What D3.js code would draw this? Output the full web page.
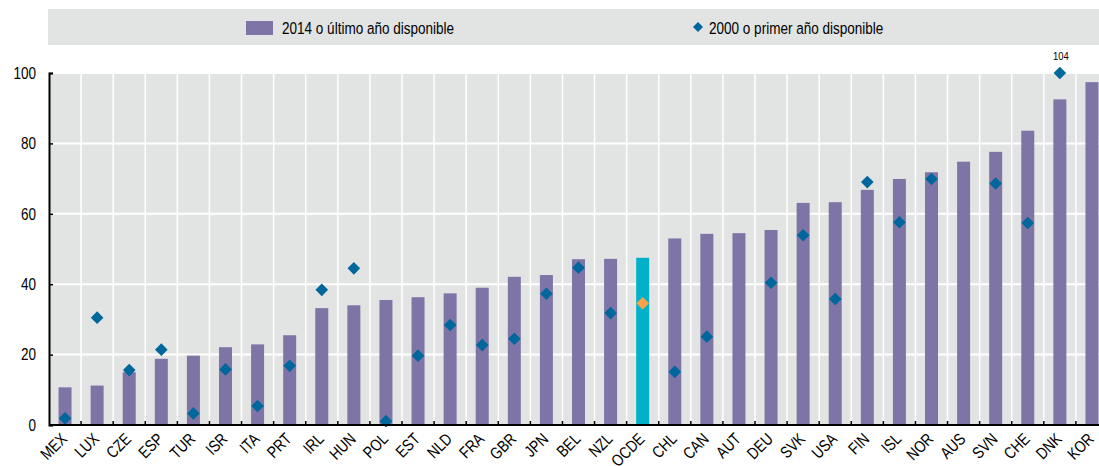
<!DOCTYPE html>
<html>
<head>
<meta charset="utf-8">
<script src="https://cdn.jsdelivr.net/npm/d3@7"></script>
<style>
  html, body { margin: 0; padding: 0; background: #fff; }
  svg { display: block; }
  text { font-family: "Liberation Sans", Arial, sans-serif; fill: #000; }
</style>
</head>
<body>
<svg id="chart" width="1099" height="466"></svg>
<script>
// Country codes, ordered by the latest value
const countries = ["MEX","LUX","CZE","ESP","TUR","ISR","ITA","PRT","IRL","HUN","POL","EST","NLD","FRA","GBR","JPN","BEL","NZL","OCDE","CHL","CAN","AUT","DEU","SVK","USA","FIN","ISL","NOR","AUS","SVN","CHE","DNK","KOR"];

// 2014 or latest available year
const latest = [10.7,11.2,15.0,18.8,19.7,22.1,22.9,25.5,33.2,34.0,35.5,36.3,37.4,39.0,42.1,42.6,47.1,47.2,47.5,53.0,54.3,54.5,55.4,63.1,63.3,66.8,69.9,71.8,74.8,77.6,83.6,92.5,97.4];

// 2000 or first available year (null where not available)
const first = [1.9,30.5,15.6,21.4,3.3,15.8,5.4,16.8,38.4,44.5,1.1,19.7,28.4,22.7,24.5,37.3,44.7,31.8,34.6,15.1,25.1,null,40.4,53.9,35.8,69.0,57.6,69.9,null,68.6,57.4,104,null];

const yTicks = [0, 20, 40, 60, 80, 100];
const legendLabels = ["2014 o último año disponible", "2000 o primer año disponible"];
const highlight = "OCDE";

const colors = {
  bar: "#7f74a6",
  barHi: "#00b1c9",
  dot: "#00679d",
  dotHi: "#f7a24b",
  panel: "#e2e3e3"
};

// Condensed look: squeeze glyphs horizontally
const NARROW = "scale(0.82,1)";

const svg = d3.select("#chart");
// The plot runs slightly past the right edge of the canvas
const plot = { left: 49, right: 1108, top: 73, bottom: 425 };

const x = d3.scaleBand().domain(countries).range([plot.left, plot.right]).padding(0);
const y = d3.scaleLinear().domain([0, 100]).range([plot.bottom, plot.top]).clamp(true);
const bw = x.bandwidth();
const barW = bw * 0.405;

// Legend strip
svg.append("rect").attr("x", 48).attr("y", 9).attr("width", 1099 - 48).attr("height", 36).attr("fill", colors.panel);
svg.append("rect").attr("x", 246).attr("y", 21).attr("width", 27).attr("height", 14).attr("fill", colors.bar);
svg.append("text").attr("transform", `translate(282,28) ${NARROW}`).attr("dy", "0.35em").style("font-size", "16.5px").text(legendLabels[0]);
svg.append("path").attr("d", d3.symbol(d3.symbolSquare, 50)()).attr("transform", "translate(698,27) rotate(45)").attr("fill", colors.dot);
svg.append("text").attr("transform", `translate(709,28) ${NARROW}`).attr("dy", "0.35em").style("font-size", "16.5px").text(legendLabels[1]);

// Plot panel
svg.append("rect").attr("x", plot.left).attr("y", plot.top).attr("width", plot.right - plot.left).attr("height", plot.bottom - plot.top).attr("fill", colors.panel);

// Horizontal grid
svg.append("g").selectAll("line").data(yTicks.filter(d => d > 0)).join("line")
  .attr("x1", plot.left).attr("x2", plot.right).attr("y1", d => y(d)).attr("y2", d => y(d))
  .attr("stroke", "#fff").attr("stroke-width", 2);

// Vertical grid at category boundaries
const bounds = countries.slice(1).map(c => x(c));
svg.append("g").selectAll("line").data(bounds).join("line")
  .attr("x1", d => d).attr("x2", d => d).attr("y1", plot.top).attr("y2", plot.bottom)
  .attr("stroke", "#fff").attr("stroke-width", 1.5);

// Bars
svg.append("g").selectAll("rect").data(countries).join("rect")
  .attr("x", d => x(d) + (bw - barW) / 2)
  .attr("width", barW)
  .attr("y", (d, i) => y(latest[i]))
  .attr("height", (d, i) => y(0) - y(latest[i]))
  .attr("fill", d => d === highlight ? colors.barHi : colors.bar);

// Diamonds
const diamond = d3.symbol(d3.symbolSquare, 80)();
svg.append("g").selectAll("path").data(countries.map((c, i) => ({ c, v: first[i] })).filter(d => d.v != null)).join("path")
  .attr("d", diamond)
  .attr("transform", d => `translate(${x(d.c) + bw / 2},${y(d.v)}) rotate(45)`)
  .attr("fill", d => d.c === highlight ? colors.dotHi : colors.dot);

// Value label for the point beyond the axis maximum
countries.forEach((c, i) => {
  if (first[i] != null && first[i] > 100) {
    svg.append("text").attr("transform", `translate(${x(c) + bw / 2 + 1},${y(100) - 13}) ${NARROW}`)
      .attr("text-anchor", "middle").style("font-size", "11.5px").text(first[i]);
  }
});

// Y axis
const yAxis = d3.axisLeft(y).tickValues(yTicks).tickSize(-4).tickPadding(0).tickFormat(d3.format("d"));
const gy = svg.append("g").attr("transform", `translate(${plot.left},0)`).call(yAxis);
gy.attr("font-family", null).attr("font-size", null);
gy.select(".domain").attr("stroke", "#000").attr("stroke-width", 2);
gy.selectAll(".tick line").attr("stroke", "#000").attr("stroke-width", 1.5);
gy.selectAll(".tick text").attr("x", 0).attr("transform", `translate(-13,0) ${NARROW}`)
  .style("font-size", "16.5px").attr("fill", "#000");

// X axis: baseline, boundary ticks, rotated labels
svg.append("line").attr("x1", plot.left).attr("x2", plot.right).attr("y1", plot.bottom).attr("y2", plot.bottom).attr("stroke", "#000").attr("stroke-width", 2);
svg.append("g").selectAll("line").data(bounds).join("line")
  .attr("x1", d => d).attr("x2", d => d).attr("y1", plot.bottom - 4).attr("y2", plot.bottom)
  .attr("stroke", "#000").attr("stroke-width", 1.5);
svg.append("g").selectAll("text").data(countries).join("text")
  .attr("text-anchor", "end")
  .attr("transform", d => `translate(${x(d) + bw / 2 + 3},${plot.bottom + 15}) rotate(-45) ${NARROW}`)
  .style("font-size", "16.5px")
  .text(d => d);
</script>
</body>
</html>
